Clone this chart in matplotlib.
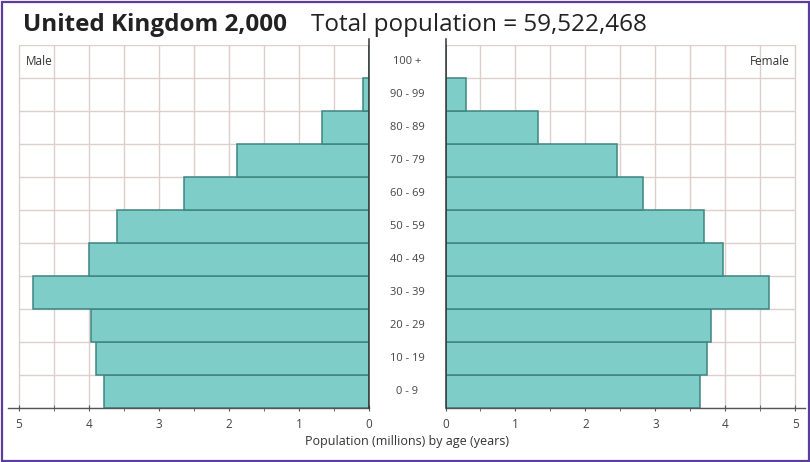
import matplotlib
matplotlib.use("Agg")
import matplotlib.pyplot as plt
from matplotlib.lines import Line2D
from matplotlib.patches import Rectangle
from matplotlib.transforms import blended_transform_factory

plt.rcParams['font.family'] = ['Open Sans', 'DejaVu Sans']

age_groups = ["0 - 9", "10 - 19", "20 - 29", "30 - 39", "40 - 49", "50 - 59",
              "60 - 69", "70 - 79", "80 - 89", "90 - 99", "100 +"]
male = [3.79, 3.90, 3.97, 4.80, 4.00, 3.60, 2.65, 1.88, 0.67, 0.08, 0.0]
female = [3.63, 3.74, 3.80, 4.62, 3.97, 3.69, 2.82, 2.45, 1.32, 0.30, 0.0]
x_ticks = [0, 1, 2, 3, 4, 5]
x_tick_labels = ["0", "1", "2", "3", "4", "5"]
title_bold = "United Kingdom 2,000"
title_rest = "Total population = 59,522,468"
x_label = "Population (millions) by age (years)"

W, H = 810, 462
fig = plt.figure(figsize=(W / 100, H / 100), dpi=100)

def fx(px):
    return px / W

def fy(py):
    return 1 - py / H

top_px, bot_px = 45, 408
bar_face = '#7fcdc8'
bar_edge = '#3f8580'
grid_col = '#dccfcc'
spine_col = '#555555'
text_col = '#444444'

axL = fig.add_axes([fx(8.5), fy(bot_px), fx(369 - 8.5), (bot_px - top_px) / H])
axR = fig.add_axes([fx(445.5), fy(bot_px), fx(805 - 445.5), (bot_px - top_px) / H])

ypos = list(range(len(age_groups)))
minor = [i * 0.5 for i in range(1, 11)]

for ax, vals, xmax in ((axL, male, 5.15), (axR, female, 5.136)):
    ax.set_ylim(-0.5, len(age_groups) - 0.5)
    if ax is axL:
        ax.set_xlim(xmax, 0)
    else:
        ax.set_xlim(0, xmax)
    for gx in minor:
        ax.axvline(gx, color=grid_col, lw=1, zorder=0)
    ax.hlines([y - 0.5 for y in range(len(age_groups) + 1)], 0, 5,
              color=grid_col, lw=1, zorder=0)
    ax.barh(ypos, vals, height=1.0, color=bar_face, edgecolor=bar_edge,
            linewidth=1.1, zorder=2)
    ax.set_yticks([])
    ax.set_xticks(x_ticks)
    ax.set_xticklabels(x_tick_labels, fontsize=8.5, color=text_col)
    ax.set_xticks(minor, minor=True)
    ax.tick_params(axis='x', which='both', direction='inout', length=4,
                   color=spine_col, pad=5)
    for s in ('top', 'left', 'right'):
        ax.spines[s].set_visible(False)
    ax.spines['bottom'].set_color(spine_col)
    ax.spines['bottom'].set_linewidth(1.0)
    ax.patch.set_alpha(0)

for px in (369, 445.5):
    fig.add_artist(Line2D([fx(px), fx(px)], [fy(39), fy(bot_px)],
                          color='#333333', lw=1.1, zorder=5))

trans = blended_transform_factory(fig.transFigure, axL.transData)
for y, lab in zip(ypos, age_groups):
    fig.text(fx(407), y, lab, transform=trans, ha='center', va='center',
             fontsize=8, color=text_col)

axL.text(4.9, 10, "Male", ha='left', va='center', fontsize=8.5, color='#333333')
axR.text(4.92, 10, "Female", ha='right', va='center', fontsize=8.5, color='#333333')

fig.text(fx(407), fy(441), x_label, ha='center', va='center', fontsize=9,
         color='#333333')

fig.text(fx(23), fy(31), title_bold, ha='left', va='baseline', fontsize=17.5,
         fontweight='bold', color='#222222')
fig.text(fx(311), fy(31), title_rest, ha='left', va='baseline', fontsize=17.5,
         color='#222222')

fig.add_artist(Rectangle((fx(1.5), fy(460.5)), fx(807), (459) / H,
                         fill=False, edgecolor='#5b3d9b', lw=1.6))

fig.savefig("out.png", dpi=100)
